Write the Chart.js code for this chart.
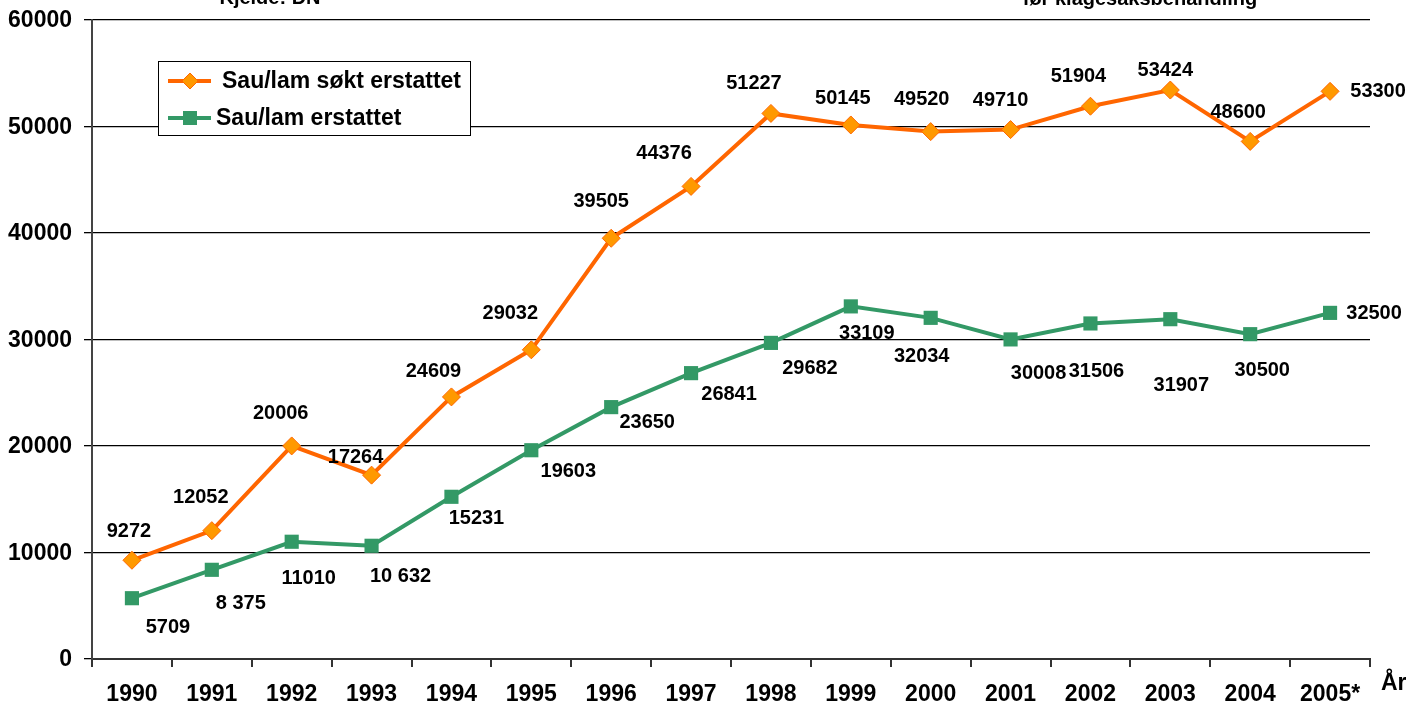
<!DOCTYPE html>
<html>
<head>
<meta charset="utf-8">
<script src="https://cdn.jsdelivr.net/npm/chart.js@4.4.1/dist/chart.umd.min.js"></script>
<style>
  html, body { margin: 0; padding: 0; background: #fff; }
  #wrap { width: 1406px; height: 707px; }
</style>
</head>
<body>
<div id="wrap"><canvas id="myChart" width="1406" height="707"></canvas></div>
<script>
// data
const years = ['1990', '1991', '1992', '1993', '1994', '1995', '1996', '1997',
  '1998', '1999', '2000', '2001', '2002', '2003', '2004', '2005*'];
const soktErstattet = [9272, 12052, 20006, 17264, 24609, 29032, 39505, 44376,
  51227, 50145, 49520, 49710, 51904, 53424, 48600, 53300];
const erstattet = [5709, 8375, 11010, 10632, 15231, 19603, 23650, 26841,
  29682, 33109, 32034, 30008, 31506, 31907, 30500, 32500];
const soktLabels = soktErstattet.map(v => String(v));
const erstattetLabels = ['5709', '8 375', '11010', '10 632', '15231', '19603', '23650', '26841',
  '29682', '33109', '32034', '30008', '31506', '31907', '30500', '32500'];
const yTicks = [0, 10000, 20000, 30000, 40000, 50000, 60000];

// where each value label sits relative to its point
const soktOffsets = [[-3,-29],[-11,-33],[-11,-32],[-16,-18],[-18,-25],[-21,-36],[-10,-37],[-27,-33],
  [-17,-30],[-8,-26],[-9,-32],[-10,-29],[-12,-30],[-5,-20],[-12,-29],[48,0]];
const erstattetOffsets = [[36,29],[29,34],[17,37],[29,31],[25,22],[37,21],[36,15],[38,21],
  [39,26],[16,27],[-9,39],[28,34],[6,48],[11,66],[12,36],[44,1]];

const FONT = "'Liberation Sans', Arial, sans-serif";
const ORANGE = '#FF6600';
const ORANGE_FILL = '#FF9900';
const GREEN = '#339966';

Chart.defaults.font.family = FONT;

const labelsPlugin = {
  id: 'valueLabels',
  afterDatasetsDraw(chart) {
    const ctx = chart.ctx;
    const sets = [[soktLabels, soktOffsets], [erstattetLabels, erstattetOffsets]];
    ctx.save();
    ctx.font = 'bold 20px ' + FONT;
    ctx.fillStyle = '#000';
    ctx.textAlign = 'center';
    ctx.textBaseline = 'middle';
    sets.forEach(([texts, offs], i) => {
      chart.getDatasetMeta(i).data.forEach((pt, j) => {
        ctx.fillText(texts[j], pt.x + offs[j][0], pt.y + offs[j][1]);
      });
    });
    ctx.restore();
  },
  afterDraw(chart) {
    const ctx = chart.ctx;
    ctx.save();
    // y tick labels
    const yScale = chart.scales.y;
    ctx.font = 'bold 23px ' + FONT;
    ctx.fillStyle = '#000';
    ctx.textAlign = 'right';
    ctx.textBaseline = 'middle';
    yTicks.forEach(v => {
      ctx.fillText(String(v), yScale.right - 20, yScale.getPixelForValue(v) + 1);
    });
    // legend box
    ctx.fillStyle = '#fff';
    ctx.fillRect(158, 61, 312, 74);
    ctx.strokeStyle = '#000';
    ctx.lineWidth = 1;
    ctx.strokeRect(158.5, 61.5, 312, 74);
    const rows = [
      { y: 81, color: ORANGE, fill: ORANGE_FILL, style: 'diamond', tx: 222 },
      { y: 118, color: GREEN, fill: GREEN, style: 'square', tx: 216 }
    ];
    rows.forEach((r, i) => {
      ctx.strokeStyle = r.color;
      ctx.lineWidth = 4;
      ctx.beginPath();
      ctx.moveTo(168, r.y);
      ctx.lineTo(211, r.y);
      ctx.stroke();
      ctx.fillStyle = r.fill;
      ctx.beginPath();
      if (r.style === 'diamond') {
        ctx.moveTo(190, r.y - 8);
        ctx.lineTo(198, r.y);
        ctx.lineTo(190, r.y + 8);
        ctx.lineTo(182, r.y);
        ctx.closePath();
        ctx.fill();
        ctx.lineWidth = 1;
        ctx.strokeStyle = r.color;
        ctx.stroke();
      } else {
        ctx.rect(183, r.y - 7, 14, 14);
        ctx.fill();
      }
      ctx.fillStyle = '#000';
      ctx.font = 'bold 23px ' + FONT;
      ctx.textAlign = 'left';
      ctx.textBaseline = 'middle';
      ctx.fillText(chart.data.datasets[i].label, r.tx, r.y + 1);
    });
    // axis title and cut-off notes at the top
    ctx.font = 'bold 23px ' + FONT;
    ctx.textAlign = 'left';
    ctx.textBaseline = 'middle';
    ctx.fillText('År', 1381, 684);
    ctx.font = 'bold 20px ' + FONT;
    ctx.textAlign = 'center';
    ctx.textBaseline = 'alphabetic';
    ctx.fillText('Kjelde: DN', 270, 4);
    ctx.fillText('før klagesaksbehandling', 1140, 5);
    ctx.restore();
  }
};

const data = {
  labels: years,
  datasets: [
    {
      label: 'Sau/lam søkt erstattet',
      data: soktErstattet,
      borderColor: ORANGE,
      backgroundColor: ORANGE_FILL,
      borderWidth: 4,
      pointStyle: 'rectRot',
      pointRadius: 9,
      pointBorderWidth: 1,
      pointBorderColor: ORANGE,
      pointBackgroundColor: ORANGE_FILL,
      tension: 0
    },
    {
      label: 'Sau/lam erstattet',
      data: erstattet,
      borderColor: GREEN,
      backgroundColor: GREEN,
      borderWidth: 4,
      pointStyle: 'rect',
      pointRadius: 10,
      pointBorderWidth: 0,
      pointBackgroundColor: GREEN,
      tension: 0
    }
  ]
};

const config = {
  type: 'line',
  data: data,
  options: {
    responsive: false,
    animation: false,
    layout: { padding: { top: 20, right: 36, bottom: 0, left: 10 } },
    plugins: {
      legend: { display: false },
      tooltip: { enabled: false }
    },
    scales: {
      x: {
        offset: true,
        afterFit(scale) {
          scale.height = 48;
          scale.paddingLeft = 0;
          scale.paddingRight = 0;
        },
        grid: {
          display: true,
          drawOnChartArea: false,
          offset: true,
          tickLength: 8,
          color: '#333',
          lineWidth: 2
        },
        border: { color: '#333', width: 2 },
        ticks: {
          color: '#000',
          font: { size: 23, weight: 'bold' },
          padding: 14,
          maxRotation: 0,
          autoSkip: false
        }
      },
      y: {
        min: 0,
        max: 60000,
        afterBuildTicks(axis) {
          axis.ticks = yTicks.map(v => ({ value: v }));
        },
        afterFit(scale) {
          scale.width = 82;
          scale.paddingTop = 0;
          scale.paddingBottom = 0;
        },
        grid: {
          color: '#000',
          lineWidth: 1.3,
          tickLength: 8
        },
        border: { color: '#444', width: 2 },
        ticks: { display: false }
      }
    }
  },
  plugins: [labelsPlugin]
};

const myChart = new Chart(document.getElementById('myChart'), config);
</script>
</body>
</html>
